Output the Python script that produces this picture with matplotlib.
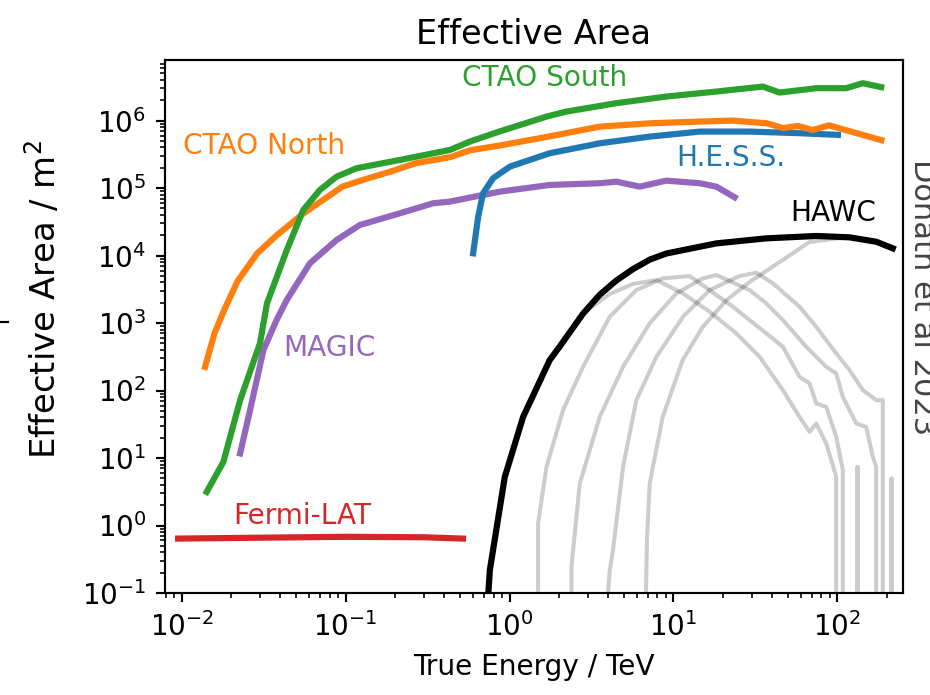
import numpy as np
import matplotlib
matplotlib.use("Agg")
import matplotlib.pyplot as plt
from matplotlib.lines import Line2D
from matplotlib.ticker import LogLocator, NullFormatter

# ---------------- data (True Energy in TeV, Effective Area in m^2) ----------------
fermi_E = [0.0095, 0.03, 0.1, 0.3, 0.52]
fermi_A = [0.64, 0.66, 0.68, 0.67, 0.64]

north_E = [0.01387, 0.01585, 0.0182, 0.0219, 0.0288, 0.038, 0.055, 0.0724, 0.0955,
           0.135, 0.186, 0.269, 0.437, 0.575, 0.871, 1.70, 3.55, 7.24, 14.5, 22.9,
           37.2, 46.8, 57.5, 70.8, 89.1, 120, 186]
north_A = [224, 708, 1585, 4170, 10700, 20000, 41700, 66100, 105000, 138000, 174000,
           234000, 288000, 363000, 427000, 575000, 813000, 912000, 966000, 1.0e6,
           912000, 776000, 832000, 724000, 851000, 692000, 513000]

south_E = [0.01419, 0.01795, 0.0227, 0.030, 0.0331, 0.0437, 0.0551, 0.0697, 0.0881,
           0.1167, 0.2143, 0.4325, 0.573, 0.873, 1.683, 2.22, 4.487, 9.06, 18.28,
           35.16, 44.46, 74.5, 113.5, 143.2, 185.4]
south_A = [3.15, 8.77, 72.1, 500, 1950, 12000, 47300, 93800, 147600, 196800, 261200,
           367300, 488700, 692000, 1.146e6, 1.358e6, 1.811e6, 2.270e6, 2.692e6,
           3.19e6, 2.60e6, 3.02e6, 3.02e6, 3.58e6, 3.13e6]

hess_E = [0.600, 0.644, 0.690, 0.794, 1.005, 1.758, 3.556, 7.18, 14.49, 29.24, 59.02, 100.9]
hess_A = [10800, 37700, 83750, 140000, 208000, 328000, 461000, 579000, 687000,
          687000, 650000, 614000]

magic_E = [0.0227, 0.0261, 0.0315, 0.0379, 0.0437, 0.0605, 0.0881, 0.1222, 0.2143,
           0.342, 0.4325, 0.690, 0.873, 1.758, 3.556, 4.487, 6.237, 9.057, 14.49,
           18.28, 23.66]
magic_A = [11.7, 51.2, 398, 1107, 2193, 7674, 17020, 28380, 42270, 59570, 62950,
           79070, 88510, 111200, 118000, 124500, 105000, 128800, 118000, 105000, 73100]

hawc_E = [0.7405, 0.759, 0.936, 1.211, 1.758, 2.023, 2.812, 3.556, 4.487, 5.675,
          7.178, 9.057, 18.28, 36.9, 74.5, 118.9, 173, 218.3]
hawc_A = [0.09, 0.22, 5.25, 40.7, 282, 447, 1380, 2630, 4270, 6310, 8710, 10720,
          15140, 17990, 19500, 18620, 16030, 12790]

# HAWC individual bins (grey)
bin1_E = [0.7405, 0.759, 0.936, 1.211, 1.758, 2.812, 4.089, 5.648, 7.875, 11.44,
          16.65, 24.22, 33.60, 46.60, 58.90, 67.78, 74.47, 85.69, 98.60, 98.60]
bin1_A = [0.01, 0.22, 5.25, 40.7, 282, 1392, 2690, 3784, 4340, 2755, 1470, 703,
          316, 101.4, 40.7, 24.4, 32.5, 16.4, 5.25, 0.01]

bin2_E = [1.494, 1.494, 1.681, 2.122, 2.810, 4.089, 5.949, 8.645, 12.58, 23.09,
          36.91, 46.60, 58.90, 67.78, 74.47, 85.69, 98.60, 108.2, 108.2, 133.0,
          133.0, 133.0]
bin2_A = [0.01, 1.07, 7.39, 51.2, 224.7, 1239, 3083, 4598, 4975, 1743, 703, 445,
          159.7, 127.5, 64.4, 57.3, 20.6, 6.60, 0.01, 0.01, 7.39, 0.01]

bin3_E = [2.388, 2.388, 2.684, 3.553, 4.929, 7.170, 10.43, 15.15, 18.29, 29.19,
          36.91, 46.60, 64.71, 85.69, 98.60, 108.2, 130.6, 150.3, 164.9, 172.9, 172.9]
bin3_A = [0.01, 0.243, 4.19, 40.7, 224.7, 989, 2755, 4598, 5147, 3083, 1958, 1107,
          445, 224.7, 179.4, 80.7, 32.5, 28.9, 10.4, 7.39, 0.01]

bin4_E = [3.72, 4.089, 4.282, 4.929, 5.949, 7.875, 11.44, 16.65, 25.37, 32.07, 40.49,
          58.90, 74.47, 98.60, 118.9, 143.3, 172.9, 189.7, 189.7, 214.4, 214.4, 214.4]
bin4_A = [0.01, 0.217, 0.430, 7.39, 72.1, 316, 1239, 3083, 4975, 5568, 3878, 1743,
          881, 355, 200.7, 101.4, 72.1, 72.1, 0.01, 0.01, 4.97, 0.01]

bin5_E = [6.683, 6.90, 7.170, 8.609, 11.39, 15.09, 21.13, 29.19, 46.41, 67.78,
          118.9, 173.3, 217.4]
bin5_A = [0.01, 0.60, 4.19, 40.7, 282.5, 872, 2192, 4053, 8590, 15890, 18840,
          15890, 12940]

hawc_bins = [(bin1_E, bin1_A), (bin2_E, bin2_A), (bin3_E, bin3_A),
             (bin4_E, bin4_A), (bin5_E, bin5_A)]

xlim = (0.0079, 252)
ylim = (0.1, 7.9e6)

# ---------------- figure ----------------
DPI = 194
fig = plt.figure(figsize=(930 / DPI, 695 / DPI), dpi=DPI)
ax = fig.add_axes([165 / 930, 1 - 593 / 695, 738 / 930, 533 / 695])

for E, A in hawc_bins:
    ax.plot(E, A, color="k", alpha=0.2, lw=1.5)

ax.plot(hawc_E, hawc_A, color="k", lw=2.3)
ax.plot(fermi_E, fermi_A, color="#d62728", lw=2.3)
ax.plot(magic_E, magic_A, color="#9467bd", lw=2.3)
ax.plot(hess_E, hess_A, color="#1f77b4", lw=2.3)
ax.plot(north_E, north_A, color="#ff7f0e", lw=2.3)
ax.plot(south_E, south_A, color="#2ca02c", lw=2.3)

ax.set_xscale("log")
ax.set_yscale("log")
ax.set_xlim(*xlim)
ax.set_ylim(*ylim)

ax.xaxis.set_major_locator(LogLocator(base=10, numticks=20))
ax.yaxis.set_major_locator(LogLocator(base=10, numticks=20))
ax.xaxis.set_minor_locator(LogLocator(base=10, subs=np.arange(2, 10), numticks=40))
ax.yaxis.set_minor_locator(LogLocator(base=10, subs=np.arange(2, 10), numticks=40))
ax.xaxis.set_minor_formatter(NullFormatter())
ax.yaxis.set_minor_formatter(NullFormatter())
ax.tick_params(labelsize=10.3)

ax.set_title("Effective Area", fontsize=12.5)
ax.set_xlabel("True Energy / TeV", fontsize=10.4)
ax.set_ylabel("Effective Area / m$^2$", fontsize=12.6)
ax.yaxis.set_label_coords(-0.139, 0.55)

labels = [
    ("CTAO South", "#2ca02c", 0.4024, 0.966),
    ("CTAO North", "#ff7f0e", 0.0244, 0.8386),
    ("H.E.S.S.", "#1f77b4", 0.6924, 0.816),
    ("HAWC", "k", 0.8469, 0.713),
    ("MAGIC", "#9467bd", 0.160, 0.4597),
    ("Fermi-LAT", "#d62728", 0.0921, 0.1445),
]
for txt, col, fx, fy in labels:
    ax.text(fx, fy, txt, color=col, transform=ax.transAxes, ha="left",
            va="center", fontsize=10.4)

fig.text(0.992, 0.572, "Donath et al 2023", rotation=270, ha="center",
         va="center", fontsize=11.3, color="#444444")

# small dash at the left edge
fig.add_artist(Line2D([0, 8 / 930], [1 - 322 / 695] * 2, color="k", lw=0.8))

fig.savefig("out.png", dpi=DPI)
